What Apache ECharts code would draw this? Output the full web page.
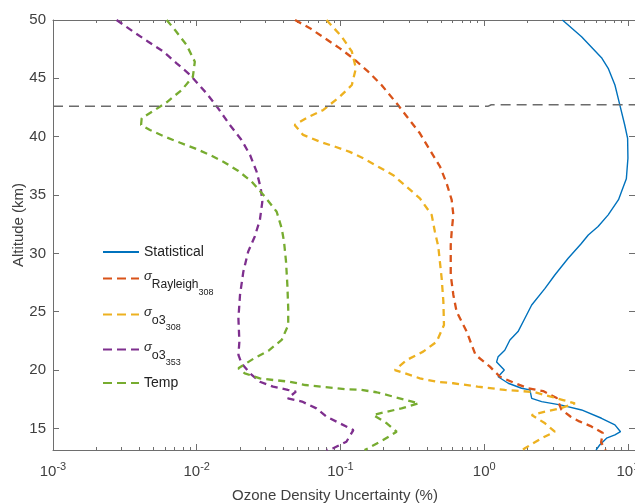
<!DOCTYPE html>
<html><head><meta charset="utf-8">
<script src="https://cdn.jsdelivr.net/npm/echarts@6/dist/echarts.min.js"></script>
<style>html,body{margin:0;padding:0;background:#fff}#c{width:635px;height:504px}</style>
</head><body><div id="c"></div>
<script>
// ---- data (value in %, altitude in km) ----
const statVal = [3.5,4.76,6.55,7.29,8.12,8.78,9.5,9.95,10.0,9.75,9.03,8.6,7.29,6.2,5.3,4.71,3.84,3.1,2.65,2.14,1.92,1.72,1.51,1.39,1.25,1.22,1.38,1.25,1.47,1.82,2.08,2.14,2.51,3.45,4.76,6.55,8.12,8.88,8.12,7.1,6.38,6.0];
const statAlt = [50,48.57,46.77,45.86,44.43,42.72,41.0,39.86,38.15,36.4,35.3,34.6,33.3,32.3,31.58,30.8,29.58,28.15,27.0,25.58,24.44,23.3,22.58,21.7,21.15,20.7,20.0,19.43,18.87,18.44,18.3,17.58,17.3,17.0,16.58,15.87,15.3,14.72,14.44,14.16,13.6,13.15];

const rayVal = [0.0483,0.0613,0.078,0.099,0.123,0.156,0.193,0.246,0.296,0.357,0.419,0.493,0.548,0.594,0.61,0.594,0.585,0.585,0.61,0.643,0.755,0.87,1.096,1.287,1.64,2.02,2.57,3.2,3.45,4.0,4.6,5.5,6.7,6.5,7.0];
const rayAlt = [50,49.3,48.43,47.57,46.7,45.57,44.43,42.86,41.58,40.29,38.86,37.43,36.0,34.58,33.3,31.86,30.7,28.15,26.44,25.0,23.3,21.3,20.29,19.43,18.87,18.44,18.2,17.6,16.6,16.0,15.6,15.2,14.6,13.8,13.15];

const o308Val = [0.080,0.102,0.12,0.128,0.12,0.099,0.076,0.060,0.048,0.055,0.072,0.092,0.116,0.144,0.183,0.233,0.289,0.357,0.431,0.454,0.479,0.506,0.52,0.525,0.467,0.376,0.289,0.239,0.281,0.357,0.467,0.61,0.9,1.39,1.82,2.25,3.54,4.28,3.36,2.65,2.14,2.65,3.1,2.51,1.92,1.85];
const o308Alt = [50,48.57,47.3,45.86,44.43,43.43,42.29,41.7,41.0,40.15,39.57,39.14,38.7,38.15,37.43,36.7,35.7,34.72,33.3,31.86,30.6,27.86,25.86,23.86,22.43,21.58,20.86,20.0,19.72,19.29,19.0,18.87,18.58,18.3,18.2,18.1,17.43,17.15,16.7,16.43,16.15,15.44,14.72,14.16,13.3,13.15];

const o353Val = [0.00277,0.00362,0.0046,0.00585,0.00725,0.0090,0.0117,0.0141,0.017,0.0205,0.0235,0.0261,0.0279,0.0286,0.0275,0.0253,0.0228,0.0211,0.0200,0.0195,0.0198,0.0195,0.0205,0.0235,0.0275,0.034,0.043,0.049,0.043,0.054,0.068,0.080,0.099,0.123,0.11,0.089,0.08];
const o353Alt = [50,49.0,48.14,47.3,46.29,45.29,43.72,42.43,41.0,39.72,38.43,37.0,35.58,34.43,32.86,31.43,30.15,28.43,26.43,24.43,22.43,21.3,20.58,19.72,19.0,18.58,18.3,18.15,17.58,17.3,16.72,16.0,15.44,14.86,13.86,13.3,13.15];

const tempVal = [0.00618,0.00706,0.0085,0.0097,0.0094,0.00786,0.00618,0.00498,0.00414,0.0041,0.00473,0.0060,0.0076,0.0097,0.0124,0.0153,0.0195,0.0241,0.0298,0.036,0.039,0.0405,0.0418,0.0427,0.0433,0.0433,0.039,0.0315,0.025,0.0195,0.0216,0.0275,0.034,0.0445,0.057,0.074,0.094,0.11,0.14,0.178,0.221,0.285,0.35,0.266,0.21,0.169,0.21,0.246,0.198,0.156,0.147];
const tempAlt = [50,49.14,47.86,46.43,45.14,44.0,42.95,42.2,41.58,41.0,40.57,40.0,39.5,39.0,38.43,37.86,37.06,36.15,34.86,33.57,32.15,31.0,29.3,27.3,25.3,23.86,22.58,21.65,21.0,20.15,19.72,19.29,19.15,19.0,18.72,18.58,18.44,18.35,18.3,18.1,17.8,17.43,17.15,16.72,16.43,16.15,15.44,14.72,14.0,13.3,13.15];

const refVal = [0.001,1.06,1.12,11.2];
const refAlt = [42.6,42.6,42.74,42.74];

const yTicks = [15,20,25,30,35,40,45,50];
const xDecades = [0.001,0.01,0.1,1,10];
const minorMult = [2,3,4,5,6,7,8,9];

const seriesNames = ['Statistical','Rayleigh308','o3_308','o3_353','Temp'];
const colors = ['#0072BD','#D95319','#EDB120','#7E2F8E','#77AC30'];

// ---- helpers ----
const FONT = 'Liberation Sans, Arial, sans-serif';
const AX = '#6e6e6e';
const TXT = '#404040';
const xMin = 0.001, xMax = 11.2, yMin = 13.15, yMax = 50;
const pairs = (xs, ys) => xs.map((v, i) => [v, ys[i]]);
const minorVals = [];
xDecades.forEach(d => minorMult.forEach(m => { if (d * m < xMax) minorVals.push(d * m); }));

const chart = echarts.init(document.getElementById('c'), null, {renderer: 'canvas'});

function xAxisBase(extra) {
  return Object.assign({
    type: 'log', logBase: 10, min: xMin, max: xMax,
    splitLine: {show: false}, minorTick: {show: false}, minorSplitLine: {show: false},
    axisLine: {show: false}, axisLabel: {show: false},
    axisTick: {show: false}
  }, extra);
}

const legendRich = {
  t: {fontSize: 14, lineHeight: 40, color: '#222', fontFamily: FONT},
  s: {fontSize: 13, fontStyle: 'italic', lineHeight: 40, color: '#222', fontFamily: FONT, padding: [0, 0, 4, 0]},
  m: {fontSize: 12, lineHeight: 40, color: '#222', fontFamily: FONT, padding: [12, 0, 0, 0]},
  n: {fontSize: 9, lineHeight: 40, color: '#222', fontFamily: FONT, padding: [28, 0, 0, 0]},
  m2: {fontSize: 12.5, lineHeight: 40, color: '#222', fontFamily: FONT, padding: [12, 0, 0, 0]},
  n2: {fontSize: 9, lineHeight: 40, color: '#222', fontFamily: FONT, padding: [26, 0, 0, 0]}
};
const legendText = {
  'Statistical': '{t|Statistical}',
  'Rayleigh308': '{s|σ}{m|Rayleigh}{n|308}',
  'o3_308': '{s|σ}{m2|o3}{n2|308}',
  'o3_353': '{s|σ}{m2|o3}{n2|353}',
  'Temp': '{t|Temp}'
};
// legend box tops (layout positions)
const legendTops = [245, 260, 297, 332, 376];
const legends = seriesNames.map((n, i) => ({
  data: [n], orient: 'vertical', left: 102, top: legendTops[i], padding: 0,
  itemWidth: 36, itemHeight: 14, itemGap: 0, selectedMode: false,
  itemStyle: {opacity: 0},
  lineStyle: i === 0 ? {width: 2} : {type: [9, 5], width: 2},
  formatter: name => legendText[name],
  textStyle: {fontFamily: FONT, fontSize: 14, color: '#222', rich: legendRich}
}));

const mkSeries = (name, xs, ys, i) => ({
  name, type: 'line', xAxisIndex: 0, yAxisIndex: 0, symbol: 'none', smooth: false,
  data: pairs(xs, ys), clip: true, z: 3,
  lineStyle: i === 0 ? {color: colors[i], width: 1.4} : {color: colors[i], width: 2.3, type: [7, 5]},
  itemStyle: {color: colors[i]}
});

const option = {
  backgroundColor: '#fff',
  animation: false,
  textStyle: {fontFamily: FONT},
  grid: [
    {left: 53, right: 0, top: 20, bottom: 54, containLabel: false, outerBoundsMode: 'none'},
    {left: 53, right: 0, top: 20, bottom: 54, containLabel: false, outerBoundsMode: 'none'}
  ],
  legend: legends,
  xAxis: [
    xAxisBase({
      gridIndex: 0, position: 'bottom',
      axisLine: {show: true, lineStyle: {color: AX, width: 1}},
      axisTick: {show: true, inside: true, length: 6, lineStyle: {color: AX}},
      axisLabel: {
        show: true, showMaxLabel: false, margin: 12,
        formatter: v => '{b|10}{e|' + Math.round(Math.log10(v)) + '}',
        rich: {
          b: {fontSize: 15, lineHeight: 20, color: TXT, fontFamily: FONT},
          e: {fontSize: 11, lineHeight: 20, color: TXT, fontFamily: FONT, padding: [0, 0, 11, 0]}
        }
      },
      name: 'Ozone Density Uncertainty (%)', nameLocation: 'middle', nameGap: 38,
      nameMoveOverlap: false,
      nameTextStyle: {fontSize: 15, color: TXT, fontFamily: FONT, padding: [0, 18, 0, 0]}
    }),
    xAxisBase({
      gridIndex: 0, position: 'top',
      axisLine: {show: true, lineStyle: {color: AX, width: 1}},
      axisTick: {show: true, inside: true, length: 6, lineStyle: {color: AX}}
    }),
    xAxisBase({
      gridIndex: 1, position: 'bottom',
      axisTick: {show: true, inside: true, length: 3, customValues: minorVals, lineStyle: {color: AX}}
    }),
    xAxisBase({
      gridIndex: 1, position: 'top',
      axisTick: {show: true, inside: true, length: 3, customValues: minorVals, lineStyle: {color: AX}}
    })
  ],
  yAxis: [
    {
      type: 'value', gridIndex: 0, position: 'left', min: yMin, max: yMax,
      splitLine: {show: false},
      axisLine: {show: true, lineStyle: {color: AX, width: 1}},
      axisTick: {show: true, inside: true, length: 6, customValues: yTicks, lineStyle: {color: AX}},
      axisLabel: {show: true, customValues: yTicks, margin: 7, fontSize: 15, color: TXT, fontFamily: FONT},
      name: 'Altitude (km)', nameLocation: 'middle', nameGap: 27,
      nameMoveOverlap: false,
      nameTextStyle: {fontSize: 15, color: TXT, fontFamily: FONT, padding: [0, 0, 0, 20]}
    },
    {
      type: 'value', gridIndex: 0, position: 'right', min: yMin, max: yMax,
      splitLine: {show: false},
      axisLine: {show: false},
      axisTick: {show: true, inside: true, length: 6, customValues: yTicks, lineStyle: {color: AX}},
      axisLabel: {show: false}
    },
    {type: 'value', gridIndex: 1, min: yMin, max: yMax, show: false}
  ],
  series: [
    mkSeries(seriesNames[0], statVal, statAlt, 0),
    mkSeries(seriesNames[1], rayVal, rayAlt, 1),
    mkSeries(seriesNames[2], o308Val, o308Alt, 2),
    mkSeries(seriesNames[3], o353Val, o353Alt, 3),
    mkSeries(seriesNames[4], tempVal, tempAlt, 4),
    {
      name: 'ref', type: 'line', xAxisIndex: 0, yAxisIndex: 0, symbol: 'none', z: 4,
      data: pairs(refVal, refAlt),
      lineStyle: {color: '#6b6b6b', width: 1.5, type: [10, 6]}
    }
  ]
};
chart.setOption(option);
</script>
</body></html>
